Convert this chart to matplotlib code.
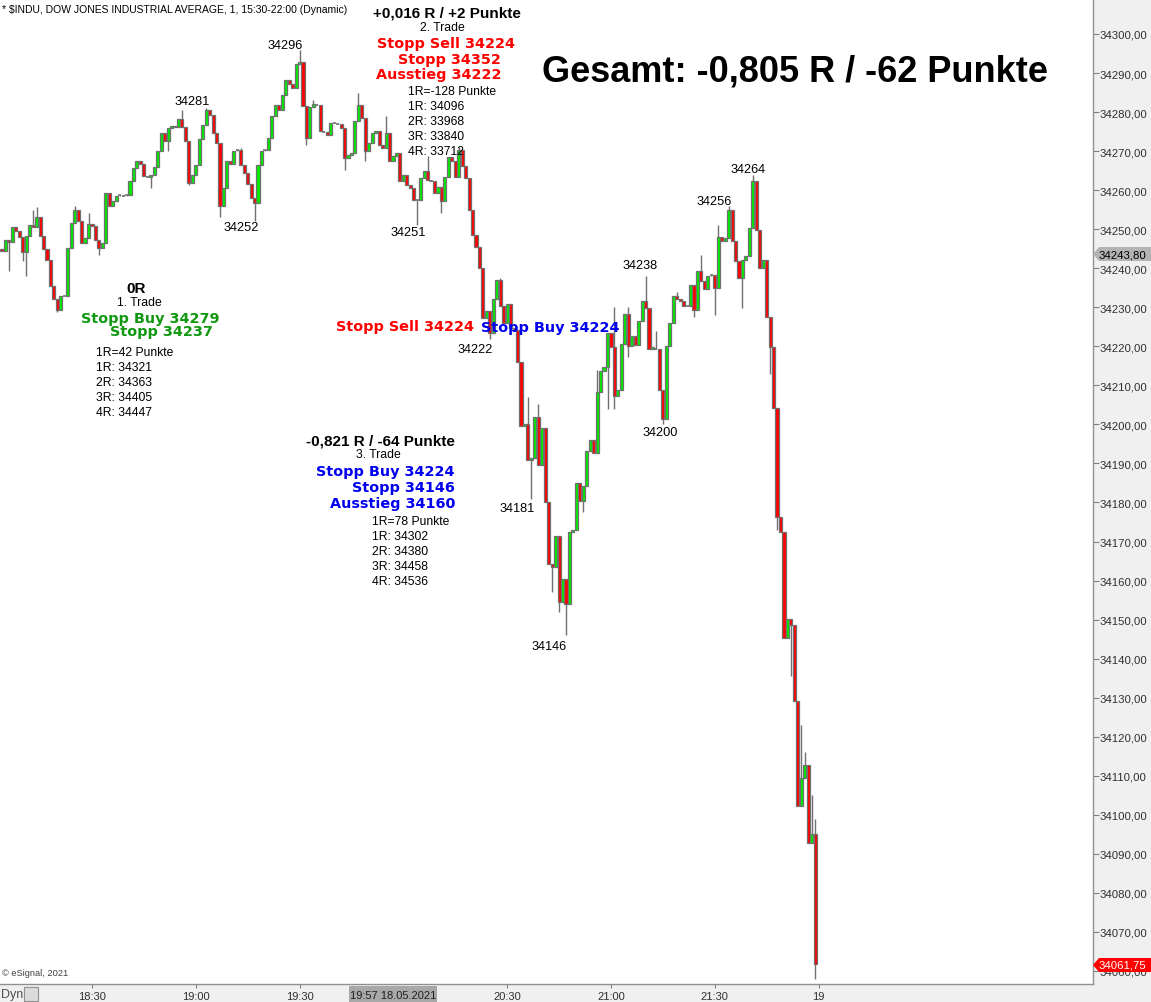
import matplotlib
matplotlib.use("Agg")
import matplotlib.pyplot as plt
from matplotlib.patches import Rectangle, Polygon

plt.rcParams['font.family'] = ['Liberation Sans', 'DejaVu Sans']

# ---------------- data (1-minute candles, 18:04 .. 21:59, 18.05.2021) ----------------
first_open = 34245.0
closes = [
    34244.5, 34247.3, 34246.8, 34250.6, 34249.6, 34248.1, 34244.2, 34248.3, 34251.1, 34250.6,
    34253.2, 34248.3, 34245.0, 34242.2, 34235.5, 34232.2, 34229.4, 34233.0, 34233.0, 34245.3,
    34251.6, 34255.0, 34252.2, 34246.5, 34247.8, 34251.4, 34250.9, 34247.3, 34245.3, 34246.5,
    34259.3, 34256.0, 34257.3, 34258.6, 34258.8, 34258.6, 34258.8, 34262.4, 34265.7, 34267.5,
    34266.7, 34263.7, 34263.4, 34263.9, 34266.0, 34270.1, 34274.7, 34272.6, 34276.0, 34276.5,
    34276.2, 34278.3, 34276.2, 34272.6, 34261.9, 34263.9, 34266.5, 34273.1, 34276.7, 34280.6,
    34279.3, 34274.7, 34272.1, 34256.0, 34260.6, 34267.5, 34266.7, 34270.1, 34270.3, 34266.5,
    34264.4, 34261.6, 34258.0, 34256.8, 34266.5, 34270.1, 34270.3, 34273.4, 34279.0, 34281.8,
    34280.6, 34284.4, 34288.2, 34287.2, 34286.2, 34292.3, 34292.8, 34281.6, 34273.4, 34281.3,
    34282.1, 34281.8, 34275.2, 34274.9, 34274.2, 34277.2, 34277.2, 34277.0, 34276.0, 34268.3,
    34269.0, 34269.6, 34277.7, 34281.8, 34278.5, 34270.1, 34272.1, 34274.7, 34275.2, 34271.6,
    34270.8, 34274.7, 34267.5, 34268.8, 34269.6, 34262.4, 34263.9, 34261.4, 34260.6, 34257.5,
    34257.5, 34263.2, 34265.0, 34262.6, 34262.4, 34259.3, 34260.9, 34257.3, 34263.4, 34268.5,
    34267.5, 34263.4, 34270.3, 34266.2, 34263.2, 34255.0, 34248.6, 34245.5, 34240.1, 34227.3,
    34229.1, 34223.5, 34232.0, 34237.1, 34230.4, 34226.1, 34230.9, 34224.8, 34224.3, 34216.1,
    34199.7, 34200.0, 34191.0, 34191.5, 34202.0, 34189.7, 34199.2, 34180.0, 34164.2, 34163.4,
    34171.3, 34154.4, 34160.3, 34153.9, 34172.4, 34172.9, 34185.1, 34180.5, 34184.1, 34193.1,
    34196.1, 34192.8, 34208.2, 34213.8, 34214.8, 34223.3, 34219.7, 34207.4, 34208.9, 34220.7,
    34228.4, 34220.2, 34222.7, 34220.4, 34226.6, 34231.7, 34229.9, 34219.2, 34219.7, 34219.4,
    34208.9, 34201.3, 34220.2, 34226.1, 34233.0, 34232.2, 34231.7, 34230.4, 34230.2, 34235.8,
    34229.4, 34239.4, 34236.8, 34234.8, 34238.1, 34238.3, 34235.0, 34248.1, 34247.0, 34247.8,
    34255.0, 34247.0, 34241.9, 34237.6, 34242.2, 34243.2, 34250.4, 34262.4, 34249.9, 34240.1,
    34242.2, 34227.6, 34219.7, 34204.1, 34176.4, 34172.4, 34145.2, 34150.1, 34148.6, 34129.1,
    34102.3, 34109.4, 34112.8, 34092.8, 34095.1, 34061.75,
]
# notable wick extremes (candle index -> price)
wick_highs = {9: 34255.0, 10: 34255.7, 21: 34256.0, 25: 34254.2, 52: 34280.6, 59: 34281.0,
              69: 34270.8, 86: 34296.0, 90: 34283.0, 103: 34285.0, 111: 34279.0, 123: 34268.8,
              132: 34271.0, 144: 34237.6, 152: 34207.0, 155: 34205.3, 172: 34214.0, 177: 34230.0,
              181: 34230.0, 186: 34238.0, 189: 34224.0, 195: 34234.0, 202: 34243.5, 207: 34251.0,
              210: 34256.0, 217: 34264.0, 231: 34123.0, 232: 34116.0, 234: 34105.0, 235: 34099.0}
wick_lows = {2: 34239.4, 6: 34241.9, 7: 34238.0, 16: 34228.9, 19: 34235.0, 28: 34243.5,
             43: 34260.6, 48: 34270.1, 54: 34261.4, 63: 34253.0, 73: 34252.0, 88: 34271.6,
             99: 34265.2, 105: 34267.5, 120: 34251.0, 127: 34254.2, 141: 34222.0, 153: 34181.0,
             159: 34157.1, 161: 34152.0, 163: 34146.0, 168: 34177.6, 175: 34204.0, 177: 34204.0,
             181: 34217.3, 191: 34200.0, 200: 34227.4, 206: 34227.9, 214: 34229.9, 222: 34213.0,
             224: 34173.0, 228: 34135.5, 231: 34103.0, 235: 34058.0}

time_ticks = [26, 56, 86, 146, 176, 206, 236]          # candle index of each label
time_labels = ["18:30", "19:00", "19:30", "20:30", "21:00", "21:30", "19"]
price_ticks = list(range(34060, 34301, 10))

# ---------------- figure ----------------
W, H = 1151, 1003
fig = plt.figure(figsize=(W / 100, H / 100), dpi=100, facecolor='#f0f0f0')
ax = fig.add_axes([0, 1 - 985 / H, 1093 / W, 985 / H])
ax.set_facecolor('white')

SP = 3.46
def px2x(px):
    return (px - 2) / SP
def py2y(py):
    return 34300 - (py - 35) / 3.904

ax.set_xlim(px2x(0), px2x(1093))
ax.set_ylim(py2y(985), py2y(0))

GREEN = '#00ee00'
RED = '#ff0000'
EDGE = '#707070'

opens = [first_open] + closes[:-1]
for i, (o, c) in enumerate(zip(opens, closes)):
    hi = max(o, c, wick_highs.get(i, max(o, c)))
    lo = min(o, c, wick_lows.get(i, min(o, c)))
    ax.vlines(i, lo, hi, color=EDGE, lw=1.0, zorder=2)
    col = GREEN if c > o else RED
    if abs(c - o) < 0.3:
        ax.hlines(c, i - 0.45, i + 0.45, color=EDGE, lw=1.2, zorder=3)
    else:
        ax.add_patch(Rectangle((i - 0.45, min(o, c)), 0.9, abs(c - o), facecolor=col,
                               edgecolor=EDGE, lw=0.9, zorder=3))

# axes styling
for s in ['top', 'left']:
    ax.spines[s].set_visible(False)
for s in ['right', 'bottom']:
    ax.spines[s].set_color('#909090')
    ax.spines[s].set_linewidth(1.0)
ax.yaxis.tick_right()
ax.set_yticks(price_ticks)
ax.set_yticklabels([f"{v:.2f}".replace('.', ',') for v in price_ticks])
ax.tick_params(axis='y', length=4, width=0.8, color='#808080', labelsize=8.2,
               labelcolor='#303030', pad=1)
ax.set_xticks(time_ticks)
ax.set_xticklabels(time_labels)
ax.tick_params(axis='x', length=3, width=0.8, color='#808080', labelsize=8,
               labelcolor='#303030', pad=2)

# ---------------- text ----------------
def T(px, py, s, size=8.7, color='black', weight='normal', ha='center', family=None):
    kw = {}
    if family:
        kw['family'] = family
    fig.text(px / W, 1 - py / H, s, fontsize=size, color=color, weight=weight,
             ha=ha, va='center', zorder=10, **kw)

VB = ['DejaVu Sans']   # wide bold face for the order texts
BIG = 10.4
SMALL = 8.7
T(2, 10, "* $INDU, DOW JONES INDUSTRIAL AVERAGE, 1, 15:30-22:00 (Dynamic)", 7.5, ha='left')
T(2, 974, "© eSignal, 2021", 6.7, color='#404040', ha='left')
T(795, 72, "Gesamt: -0,805 R / -62 Punkte", 26, weight='bold')

# trade 2
T(447, 14, "+0,016 R / +2 Punkte", 11, weight='bold')
T(442, 28, "2. Trade", 8.8)
T(446, 44, "Stopp Sell 34224", BIG, RED, 'bold', family=VB)
T(501, 60, "Stopp 34352", BIG, RED, 'bold', ha='right', family=VB)
T(501, 75, "Ausstieg 34222", BIG, RED, 'bold', ha='right', family=VB)
for k, s in enumerate(["1R=-128 Punkte", "1R: 34096", "2R: 33968", "3R: 33840", "4R: 33712"]):
    T(408, 92 + k * 15, s, SMALL, ha='left')

# trade 1
GTXT = '#109810'
T(136, 289, "0R", 11, weight='bold')
T(139, 303, "1. Trade", 8.8)
T(150, 319, "Stopp Buy 34279", BIG, GTXT, 'bold', family=VB)
T(213, 332, "Stopp 34237", BIG, GTXT, 'bold', ha='right', family=VB)
for k, s in enumerate(["1R=42 Punkte", "1R: 34321", "2R: 34363", "3R: 34405", "4R: 34447"]):
    T(96, 353 + k * 15, s, SMALL, ha='left')

BLUE = '#0000ee'
T(474, 327, "Stopp Sell 34224", BIG, RED, 'bold', ha='right', family=VB)
T(481, 328, "Stopp Buy 34224", BIG, BLUE, 'bold', ha='left', family=VB)

# trade 3
T(380, 441, "-0,821 R / -64 Punkte", 11, weight='bold')
T(378, 455, "3. Trade", 8.8)
T(455, 472, "Stopp Buy 34224", BIG, BLUE, 'bold', ha='right', family=VB)
T(455, 488, "Stopp 34146", BIG, BLUE, 'bold', ha='right', family=VB)
T(455, 504, "Ausstieg 34160", BIG, BLUE, 'bold', ha='right', family=VB)
for k, s in enumerate(["1R=78 Punkte", "1R: 34302", "2R: 34380", "3R: 34458", "4R: 34536"]):
    T(372, 522 + k * 15, s, SMALL, ha='left')

# swing labels
for (px, py, s) in [(285, 46, "34296"), (192, 102, "34281"), (241, 228, "34252"),
                    (408, 233, "34251"), (475, 350, "34222"), (517, 509, "34181"),
                    (549, 647, "34146"), (640, 266, "34238"), (660, 433, "34200"),
                    (714, 202, "34256"), (748, 170, "34264")]:
    T(px, py, s, 9.2)

# ---------------- price markers on the right ----------------
def marker(py, text, fc, tc):
    x0, x1, h = 1093, 1151, 7
    pts = [(x0, py), (x0 + 6, py - h), (x1, py - h), (x1, py + h), (x0 + 6, py + h)]
    pts = [(x / W, 1 - y / H) for x, y in pts]
    fig.patches.append(Polygon(pts, closed=True, facecolor=fc, edgecolor='none',
                               transform=fig.transFigure, zorder=5))
    T(1099, py, text, 8.2, color=tc, ha='left')

marker(255, "34243,80", '#b4b4b4', 'black')
marker(966, "34061,75", '#ff0000', 'white')

# ---------------- bottom strip ----------------
T(1, 995, "Dyn", 9, color='#505050', ha='left')
fig.patches.append(Rectangle((24 / W, 1 - 1002 / H), 14 / W, 14 / H, facecolor='#dcdcdc',
                             edgecolor='#909090', lw=0.8, transform=fig.transFigure, zorder=5))
fig.patches.append(Rectangle((349 / W, 1 - 1003 / H), 88 / W, 16 / H, facecolor='#a8a8a8',
                             edgecolor='none', transform=fig.transFigure, zorder=5))
T(393, 996, "19:57 18.05.2021", 8, color='#202020')

fig.savefig("out.png", dpi=100, facecolor=fig.get_facecolor())
